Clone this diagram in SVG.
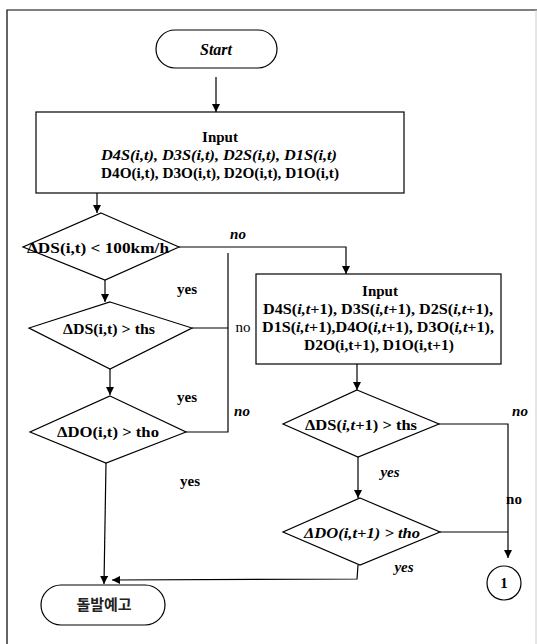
<svg xmlns="http://www.w3.org/2000/svg" width="537" height="644" viewBox="0 0 537 644">
<defs>
<marker id="ah" viewBox="0 0 10 10" refX="10" refY="5" markerWidth="8" markerHeight="8" markerUnits="userSpaceOnUse" orient="auto">
<path d="M0,0 L10,5 L0,10 Z" fill="#000"/>
</marker>
<style>
.s{fill:#fff;stroke:#000;stroke-width:1.2}
.c{fill:none;stroke:#000;stroke-width:1.2}
.t{font-family:"Liberation Serif","Times New Roman",serif;font-size:15px;font-weight:bold;fill:#000;text-anchor:middle}
.i{font-style:italic}
.n{font-weight:normal}
.k{font-family:"Noto Sans CJK KR",sans-serif;font-size:15px;font-weight:bold;fill:#222;text-anchor:middle}
</style>
</defs>
<rect x="0" y="0" width="537" height="644" fill="#fff"/>
<path class="c" d="M7,650 L7,10 L537,10"/>
<path d="M536,10 L536,644" fill="none" stroke="#ccc" stroke-width="1"/>
<g id="connectors">
<path class="c" d="M216,77 L216,112" marker-end="url(#ah)"/>
<path class="c" d="M97,193 L97,213" marker-end="url(#ah)"/>
<path class="c" d="M179,247 L346,247 L346,274" marker-end="url(#ah)"/>
<path class="c" d="M105,280 L105,302" marker-end="url(#ah)"/>
<path class="c" d="M228,253 L228,432 L186,432"/>
<path class="c" d="M192,328 L228,328"/>
<path class="c" d="M110,369 L110,395" marker-end="url(#ah)"/>
<path class="c" d="M106,463 L104,584" marker-end="url(#ah)"/>
<path class="c" d="M357,364 L357,390" marker-end="url(#ah)"/>
<path class="c" d="M439,424 L508,424 L508,558" marker-end="url(#ah)"/>
<path class="c" d="M358,457 L358,498" marker-end="url(#ah)"/>
<path class="c" d="M440,532 L508,532"/>
<path class="c" d="M358,565 L357,579 L112,580" marker-end="url(#ah)"/>
</g>
<g id="start">
<rect class="s" x="156" y="30" width="121" height="38" rx="19"/>
<text class="t i" x="216" y="55" style="font-size:16px">Start</text>
</g>
<g id="input1">
<rect class="s" x="36" y="112" width="368" height="81"/>
<text class="t" x="220" y="142">Input</text>
<text class="t i" x="219" y="160" textLength="236" lengthAdjust="spacingAndGlyphs">D4S(i,t), D3S(i,t), D2S(i,t), D1S(i,t)</text>
<text class="t" x="220" y="178" textLength="238" lengthAdjust="spacingAndGlyphs">D4O(i,t), D3O(i,t), D2O(i,t), D1O(i,t)</text>
</g>
<g id="d1">
<polygon class="s" points="101,213 179,247 105,280 23,247"/>
<text class="t" x="98" y="253" textLength="142" lengthAdjust="spacingAndGlyphs">ΔDS(i,t) &lt; 100km/h</text>
</g>
<g id="d2">
<polygon class="s" points="110,302 192,328 110,369 29,328"/>
<text class="t" x="109" y="334" textLength="92" lengthAdjust="spacingAndGlyphs">ΔDS(i,t) &gt; ths</text>
</g>
<g id="d3">
<polygon class="s" points="110,396 186,432 106,463 30,432"/>
<text class="t" x="108" y="437" textLength="102" lengthAdjust="spacingAndGlyphs">ΔDO(i,t) &gt; tho</text>
</g>
<g id="input2">
<rect class="s" x="256" y="274" width="245" height="90"/>
<text class="t" x="380" y="296">Input</text>
<text class="t" x="378" y="314" textLength="230" lengthAdjust="spacingAndGlyphs">D4S(<tspan class="i">i,t</tspan>+1), D3S(<tspan class="i">i,t</tspan>+1), D2S(<tspan class="i">i,t</tspan>+1),</text>
<text class="t" x="378" y="332" textLength="232" lengthAdjust="spacingAndGlyphs">D1S(<tspan class="i">i,t</tspan>+1),D4O(<tspan class="i">i,t</tspan>+1), D3O(<tspan class="i">i,t</tspan>+1),</text>
<text class="t" x="379" y="350" textLength="150" lengthAdjust="spacingAndGlyphs">D2O(i,t+1), D1O(i,t+1)</text>
</g>
<g id="d4">
<polygon class="s" points="357,390 439,424 358,457 283,424"/>
<text class="t" x="361" y="430" textLength="112" lengthAdjust="spacingAndGlyphs">ΔDS(<tspan class="i">i,t</tspan>+1) &gt; ths</text>
</g>
<g id="d5">
<polygon class="s" points="360,498 440,532 360,565 283,532"/>
<text class="t i" x="362" y="538" textLength="116" lengthAdjust="spacingAndGlyphs">ΔDO(i,t+1) &gt; tho</text>
</g>
<g id="end">
<rect class="s" x="41" y="585" width="124" height="40" rx="20"/>
<text class="k" x="104" y="610">돌발예고</text>
</g>
<g id="c1">
<circle class="s" cx="504" cy="583" r="17"/>
<text class="t" x="504" y="588">1</text>
</g>
<g id="labels">
<text class="t i" x="238" y="239">no</text>
<text class="t" x="187" y="294">yes</text>
<text class="t n" x="243" y="332">no</text>
<text class="t" x="187" y="402">yes</text>
<text class="t i" x="242" y="416">no</text>
<text class="t" x="190" y="486">yes</text>
<text class="t i" x="520" y="416">no</text>
<text class="t i" x="390" y="477">yes</text>
<text class="t" x="514" y="504">no</text>
<text class="t i" x="404" y="572">yes</text>
</g>
</svg>
